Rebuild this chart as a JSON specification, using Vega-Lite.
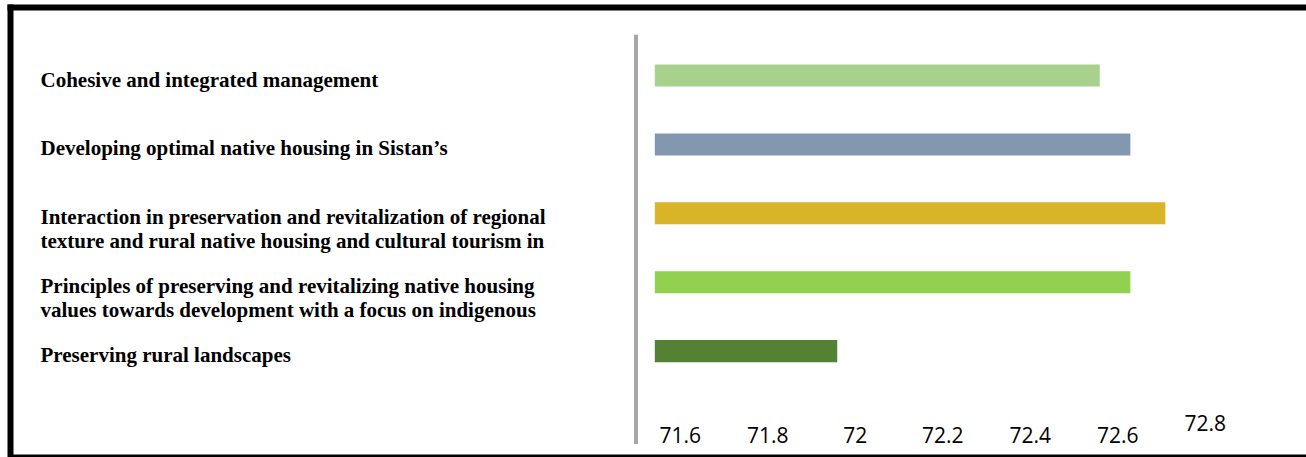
{
  "$schema": "https://vega.github.io/schema/vega-lite/v6.json",
  "width": 1296,
  "height": 449,
  "autosize": "none",
  "padding": {"left": 10, "top": 7, "right": 0, "bottom": 1},
  "background": "white",
  "config": {"view": {"stroke": null}},
  "data": {
    "values": [
      {"factor": "Cohesive and integrated management", "score": 72.56},
      {"factor": "Developing optimal native housing in Sistan’s", "score": 72.63},
      {"factor": "Interaction in preservation and revitalization of regional\ntexture and rural native housing and cultural tourism in", "score": 72.71},
      {"factor": "Principles of preserving and revitalizing native housing\nvalues towards development with a focus on indigenous", "score": 72.63},
      {"factor": "Preserving rural landscapes", "score": 71.96}
    ]
  },
  "layer": [
    {
      "mark": {"type": "bar", "height": {"band": 0.32}},
      "encoding": {
        "y": {
          "field": "factor",
          "type": "nominal",
          "sort": null,
          "scale": {"paddingInner": 0, "paddingOuter": 0.758, "align": 0.326},
          "axis": {
            "orient": "left",
            "title": null,
            "domain": true,
            "domainColor": "black",
            "domainWidth": 6,
            "domainCap": "square",
            "ticks": false,
            "tickSize": 0,
            "grid": false,
            "labelAlign": "left",
            "labelBaseline": "middle",
            "labelPadding": -30,
            "labelOffset": 5,
            "labelLimit": 700,
            "labelOverlap": false,
            "labelFont": "Liberation Serif",
            "labelFontWeight": "bold",
            "labelFontSize": 21,
            "labelColor": "black",
            "labelLineHeight": 24,
            "labelExpr": "split(datum.label, '\\n')"
          }
        },
        "x": {
          "field": "score",
          "type": "quantitative",
          "scale": {"domain": [70.069143, 73.031429], "nice": false, "zero": false},
          "axis": {
            "orient": "bottom",
            "title": null,
            "values": [71.6, 71.8, 72, 72.2, 72.4, 72.6, 72.8],
            "ticks": false,
            "tickSize": 0,
            "grid": false,
            "domainColor": "black",
            "domainWidth": 4,
            "labelFont": "Open Sans",
            "labelFontSize": 21,
            "labelColor": "black",
            "labelBaseline": "alphabetic",
            "labelPadding": {"condition": {"test": "datum.value > 72.7", "value": -26}, "value": -14},
            "labelOverlap": false,
            "labelFlush": false,
            "labelExpr": "'' + datum.value"
          }
        },
        "x2": {"datum": 71.543},
        "color": {
          "field": "factor",
          "type": "nominal",
          "sort": null,
          "scale": {
            "domain": [
              "Cohesive and integrated management",
              "Developing optimal native housing in Sistan’s",
              "Interaction in preservation and revitalization of regional\ntexture and rural native housing and cultural tourism in",
              "Principles of preserving and revitalizing native housing\nvalues towards development with a focus on indigenous",
              "Preserving rural landscapes"
            ],
            "range": ["#a9d18e", "#8497b0", "#dab428", "#92d050", "#548235"]
          },
          "legend": null
        }
      }
    },
    {
      "data": {"values": [{}]},
      "mark": {"type": "rule", "color": "#a6a6a6", "strokeWidth": 4},
      "encoding": {
        "x": {
          "datum": 71.5,
          "type": "quantitative",
          "scale": {"domain": [70.069143, 73.031429], "nice": false, "zero": false},
          "axis": {
            "orient": "top",
            "title": null,
            "labels": false,
            "ticks": false,
            "tickSize": 0,
            "grid": false,
            "domainColor": "black",
            "domainWidth": 6,
            "domainCap": "square"
          }
        },
        "y": {"datum": 0.938, "type": "quantitative", "scale": {"domain": [0, 1], "nice": false, "zero": false}, "axis": null},
        "y2": {"datum": 0.027}
      }
    }
  ],
  "resolve": {"scale": {"x": "independent", "y": "independent"}}
}
